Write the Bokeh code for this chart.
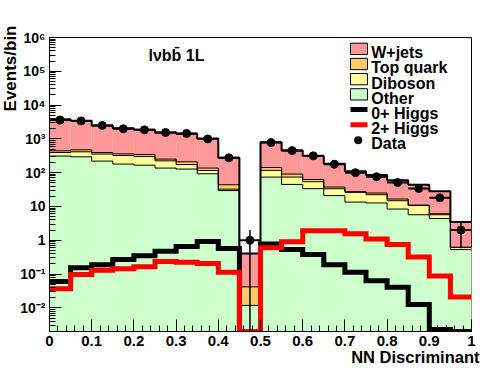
import numpy as np
from bokeh.plotting import figure
from bokeh.models import Range1d, FixedTicker, CustomJSTickFormatter, Label, BoxAnnotation, Title
from bokeh.embed import file_html
from bokeh.resources import INLINE

# ---------------- data ----------------
bin_edges = [0.0, 0.05, 0.1, 0.15, 0.2, 0.25, 0.3, 0.35, 0.4, 0.45, 0.5,
             0.55, 0.6, 0.65, 0.7, 0.75, 0.8, 0.85, 0.9, 0.95, 1.0]

other   = [310, 295, 220, 180, 167, 137, 128, 93, 29.5, 0.0118,
           74, 45, 33.7, 21, 13.5, 12.7, 8.4, 5.7, 4.4, 0.53]
diboson = [85, 120, 135, 142, 133, 87, 46, 23, 3.0, 0.0,
           43, 29, 20.3, 12.5, 12.7, 9.6, 6.4, 5.0, 1.3, 0.09]
top_quark = [48, 60, 40, 38, 45, 28, 36, 21, 11.5, 0.030,
             25, 17, 9.0, 4.1, 1.2, 2.7, 1.8, 0.3, 0.4, 0.0]
wjets   = [3357, 2985, 2105, 1720, 1505, 1288, 1200, 883, 231, 0.368,
           653, 364, 247, 145, 83.6, 60, 43.4, 33, 21.9, 2.88]
data_counts = [3600, 3400, 2500, 1990, 1850, 1540, 1450, 1000, 275, 1,
               780, 450, 315, 178, 100, 76, 51, 34, 18, 2]
higgs_0p = [0.060, 0.155, 0.19, 0.27, 0.35, 0.47, 0.66, 0.92, 0.57, 0.0,
            0.78, 0.53, 0.38, 0.19, 0.114, 0.063, 0.041, 0.0125, 0.0023, 0.0]
higgs_2p = [0.037, 0.097, 0.13, 0.144, 0.165, 0.235, 0.224, 0.205, 0.113, 0.0,
            0.60, 0.91, 1.93, 1.93, 1.55, 1.1, 0.75, 0.32, 0.087, 0.021]

x_tick_values = [0.0, 0.1, 0.2, 0.3, 0.4, 0.5, 0.6, 0.7, 0.8, 0.9, 1.0]
y_tick_values = [1e-2, 1e-1, 1e0, 1e1, 1e2, 1e3, 1e4, 1e5, 1e6]

legend_labels = ["W+jets", "Top quark", "Diboson", "Other", "0+ Higgs", "2+ Higgs", "Data"]
title_text = "lνbb\u0304 1L"
x_title = "NN Discriminant"
y_title = "Events/bin"

# ---------------- style ----------------
FONT = "Liberation Sans"
C_W = "#ff9999"
C_TOP = "#ffcc66"
C_DIB = "#ffff99"
C_OTH = "#ccffcc"
YMIN, YMAX = 0.002, 1e6

FL, FR, FT, FB = 49, 471, 37, 331   # frame edges in page pixels
W, H = 496, 372

p = figure(width=W, height=H, x_range=Range1d(0, 1), y_range=Range1d(YMIN, YMAX),
           y_axis_type="log", output_backend="svg", toolbar_location=None,
           min_border_left=FL, min_border_right=W - FR, min_border_top=FT,
           min_border_bottom=H - FB)
p.outline_line_color = "black"
p.outline_line_width = 1
p.grid.visible = False
p.background_fill_color = "white"
p.border_fill_color = "white"

edges = np.array(bin_edges)
lo, hi = edges[:-1], edges[1:]
c_oth = np.array(other, dtype=float)
c_dib = c_oth + np.array(diboson)
c_top = c_dib + np.array(top_quark)
c_tot = c_top + np.array(wjets)
floor = YMIN * 1e-3

# filled stack (each cumulative histogram filled from the bottom, drawn top-first)
for cum, col in [(c_tot, C_W), (c_top, C_TOP), (c_dib, C_DIB), (c_oth, C_OTH)]:
    p.quad(left=lo, right=hi, bottom=floor, top=cum, fill_color=col, line_color=None)

def step_y(vals):
    v = list(vals)
    return v + [v[-1]]

for cum, w in [(c_oth, 1), (c_dib, 1), (c_top, 1), (c_tot, 2)]:
    p.step(x=edges, y=step_y(cum), mode="after", line_color="black", line_width=w)

# signal hypotheses
h0 = np.maximum(np.array(higgs_0p), YMIN)
h2 = np.maximum(np.array(higgs_2p), YMIN)
p.step(x=edges, y=step_y(h0), mode="after", line_color="black", line_width=5,
       line_join="miter")
p.step(x=edges, y=step_y(h2), mode="after", line_color="red", line_width=5,
       line_join="miter")

# data with Poisson errors
d = np.array(data_counts, dtype=float)
err = np.sqrt(d)
centers = (lo + hi) / 2
p.segment(x0=lo, x1=hi, y0=d, y1=d, line_color="black", line_width=2)
p.segment(x0=centers, x1=centers, y0=np.maximum(d - err, floor), y1=d + err,
          line_color="black", line_width=1.5)
p.scatter(x=centers, y=d, size=8, marker="circle", fill_color="black", line_color="black")

# ---------------- axes ----------------
x_minor = [round(0.02 * i, 2) for i in range(51)]
y_minor = [m * 10.0 ** e for e in range(-3, 6) for m in range(2, 10) if m * 10.0 ** e >= YMIN]
p.xaxis.ticker = FixedTicker(ticks=x_tick_values, minor_ticks=x_minor)
p.yaxis.ticker = FixedTicker(ticks=y_tick_values, minor_ticks=y_minor)
p.xaxis.formatter = CustomJSTickFormatter(code="return tick.toFixed(1).replace(/\\.0$/, '');")
p.yaxis.formatter = CustomJSTickFormatter(code="""
const e = Math.round(Math.log10(tick));
if (e == 0) return "1";
if (e == 1) return "10";
const sup = {"-":"\u207b","0":"\u2070","1":"\u00b9","2":"\u00b2","3":"\u00b3","4":"\u2074",
             "5":"\u2075","6":"\u2076","7":"\u2077","8":"\u2078","9":"\u2079"};
return "10" + String(e).split("").map(c => sup[c]).join("");
""")
for ax, fs in [(p.xaxis[0], "15px"), (p.yaxis[0], "14px")]:
    ax.major_tick_in = 12
    ax.major_tick_out = 0
    ax.minor_tick_in = 6
    ax.minor_tick_out = 0
    ax.axis_line_color = "black"
    ax.major_tick_line_color = "black"
    ax.minor_tick_line_color = "black"
    ax.major_label_text_font = FONT
    ax.major_label_text_font_style = "bold"
    ax.major_label_text_font_size = fs
    ax.major_label_text_color = "black"
    ax.major_label_standoff = 4

# ---------------- axis titles (side-panel titles, aligned to the far ends) ----------------
def make_title(text, size, offset, standoff, valign):
    kw = dict(text=text, align="right", vertical_align=valign, offset=offset,
              text_font=FONT, text_font_style="bold", text_font_size=size,
              text_color="black")
    try:
        return Title(standoff=standoff, **kw)
    except Exception:
        return Title(standoff=0, **kw)

p.add_layout(make_title(x_title, "16.5px", -8, -1, "top"), "below")
p.add_layout(make_title(y_title, "17px", -12, -4, "bottom"), "left")

# ---------------- texts inside the frame (positions relative to the frame) ----------------
def fx(x):
    return x - FL
def fy(y):
    return FB - y

def add_label(text, x, y, size="16px"):
    p.add_layout(Label(x=fx(x), y=fy(y), x_units="screen", y_units="screen", text=text,
                       text_font=FONT, text_font_style="bold", text_font_size=size,
                       text_align="left", text_baseline="alphabetic",
                       text_color="black"))

add_label(title_text, 148, 55)

# ---------------- legend (drawn by hand) ----------------
fills = [C_W, C_TOP, C_DIB, C_OTH]
row0, dy = 42.7, 15.17
for i, name in enumerate(legend_labels):
    top_y = row0 + dy * i
    cy = top_y + 5.65
    if i < 4:
        p.add_layout(BoxAnnotation(left=fx(350), right=fx(367), top=fy(top_y), bottom=fy(top_y + 11.3),
                                   left_units="screen", right_units="screen",
                                   top_units="screen", bottom_units="screen",
                                   fill_color=fills[i], fill_alpha=1, line_color="black",
                                   line_width=1, line_alpha=1))
    elif i < 6:
        col = "black" if i == 4 else "red"
        p.add_layout(BoxAnnotation(left=fx(350), right=fx(367), top=fy(cy - 2.5), bottom=fy(cy + 2.5),
                                   left_units="screen", right_units="screen",
                                   top_units="screen", bottom_units="screen",
                                   fill_color=col, fill_alpha=1, line_alpha=0))
    else:
        p.add_layout(BoxAnnotation(left=fx(353.7), right=fx(361.7), top=fy(cy - 3.5), bottom=fy(cy + 4.5),
                                   left_units="screen", right_units="screen",
                                   top_units="screen", bottom_units="screen",
                                   fill_color="black", fill_alpha=1, line_alpha=0, border_radius=4))
    add_label(name, 370.7, 52.3 + dy * i)

open("out.html", "w").write(file_html(p, INLINE))
